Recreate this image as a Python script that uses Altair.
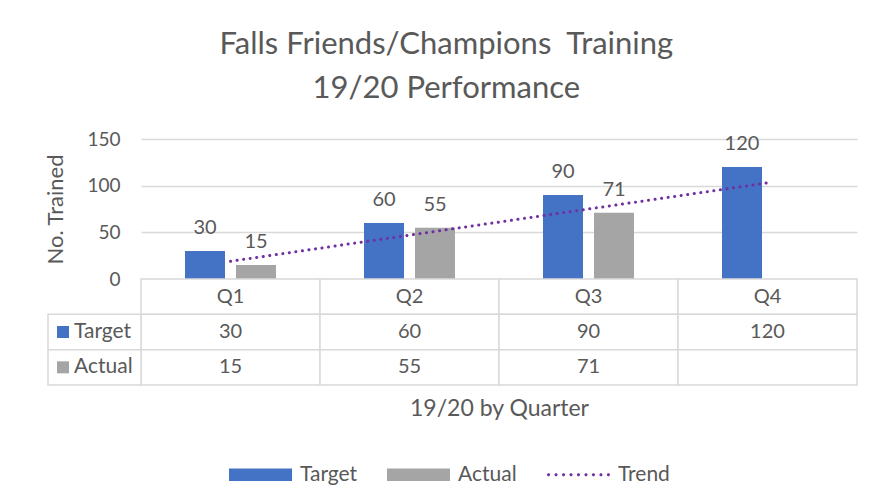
import altair as alt
import pandas as pd

# ---- data ----
quarters = ["Q1", "Q2", "Q3", "Q4"]
target = [30, 60, 90, 120]
actual = [15, 55, 71, None]
series = ["Target", "Actual"]
legend_items = ["Target", "Actual", "Trend"]
colors = ["#4472C4", "#A5A5A5", "#7030A0"]
y_ticks = [0, 50, 100, 150]
table_rows = ["hdr", "Target", "Actual"]

FONT = "Lato"
TXT = "#595959"
GRID = "#D9D9D9"
W, H = 716, 140
TH = 106

bar_rows = []
for q, t, a in zip(quarters, target, actual):
    bar_rows.append({"quarter": q, "series": "Target", "value": t})
    if a is not None:
        bar_rows.append({"quarter": q, "series": "Actual", "value": a})
bars_df = pd.DataFrame(bar_rows)

trend_df = pd.DataFrame({"quarter": quarters, "idx": [1, 2, 3, 4], "actual": actual})

tab_rows = []
for q, t, a in zip(quarters, target, actual):
    tab_rows.append({"quarter": q, "row": "hdr", "text": q})
    tab_rows.append({"quarter": q, "row": "Target", "text": str(t)})
    tab_rows.append({"quarter": q, "row": "Actual", "text": "" if a is None else str(a)})
table_df = pd.DataFrame(tab_rows)
label_df = pd.DataFrame({"series": series})

# legend symbol shapes (normalized paths)
rect_path = "M-1,-0.2H1V0.2H-1Z"
dots = []
for i in range(9):
    cx = -0.95 + i * 0.2375
    r = 0.05
    dots.append(f"M{cx - r:.4f},0a{r},{r} 0 1,0 {2*r},0a{r},{r} 0 1,0 {-2*r},0")
dot_path = "".join(dots)
sym_expr = f"datum.value === 'Trend' ? '{dot_path}' : '{rect_path}'"

color_scale = alt.Scale(domain=legend_items, range=colors)
xscale = alt.Scale(domain=quarters, paddingInner=0, paddingOuter=0)
yscale = alt.Scale(domain=[0, 150], nice=False)
xq = alt.X("quarter:N", scale=xscale, axis=None)
xoff = alt.XOffset("series:N", scale=alt.Scale(domain=series, paddingInner=0.216, paddingOuter=0.863))

yaxis = alt.Axis(
    values=y_ticks, grid=True, gridColor=GRID, gridWidth=1.5, domain=False, ticks=False,
    labelFontSize=19, labelFont=FONT, labelColor=TXT, labelPadding=21,
    title="No. Trained", titleFontSize=22, titleFont=FONT, titleColor=TXT,
    titleFontWeight="normal", titlePadding=19,
)

bars = alt.Chart(bars_df).mark_bar().encode(
    x=xq,
    xOffset=xoff,
    y=alt.Y("value:Q", scale=yscale, axis=yaxis),
    color=alt.Color(
        "series:N", scale=color_scale,
        legend=alt.Legend(
            title=None, orient="none", direction="horizontal", legendX=88, legendY=304,
            symbolType=alt.ExprRef(sym_expr), symbolSize=3969, symbolStrokeWidth=0,
            labelFontSize=21, labelFont=FONT, labelColor=TXT, labelOffset=8, columnPadding=29,
        ),
    ),
)

labels = alt.Chart(bars_df).mark_text(
    baseline="bottom", dy=-13, fontSize=20, font=FONT, color=TXT
).encode(x=xq, xOffset=xoff, y=alt.Y("value:Q", scale=yscale, axis=yaxis), text="value:Q")

trend = (
    alt.Chart(trend_df)
    .transform_filter("isValid(datum.actual)")
    .transform_regression("idx", "actual", extent=[1, 4])
    .transform_calculate(quarter="'Q' + round(datum.idx)")
    .mark_line(color=colors[2], strokeWidth=3, strokeDash=[0.1, 6.5], strokeCap="round")
    .encode(x=xq, y=alt.Y("actual:Q", scale=yscale, axis=yaxis))
)

top = alt.layer(bars, labels, trend).properties(width=W, height=H)

# ---- data table ----
x_tab = alt.X(
    "quarter:N", scale=xscale,
    axis=alt.Axis(
        title="19/20 by Quarter", labels=False, ticks=False, domain=False, grid=False,
        titleFontSize=23, titleFont=FONT, titleColor=TXT, titleFontWeight="normal", titlePadding=12,
    ),
)
y_tab = alt.Y("row:N", scale=alt.Scale(domain=table_rows, paddingInner=0, paddingOuter=0), axis=None)
y_lab = alt.Y("series:N", scale=alt.Scale(domain=table_rows, paddingInner=0, paddingOuter=0), axis=None)

cells = alt.Chart(table_df).mark_rect(fill="white", stroke=GRID, strokeWidth=1.5).encode(x=x_tab, y=y_tab)
cell_txt = alt.Chart(table_df).mark_text(fontSize=20, font=FONT, color=TXT).encode(x=x_tab, y=y_tab, text="text:N")
lab_cells = alt.Chart(label_df).mark_rect(fill="white", stroke=GRID, strokeWidth=1.5).encode(
    x=alt.value(-93), x2=alt.value(0), y=y_lab
)
lab_sq = alt.Chart(label_df).mark_square(size=144, opacity=1).encode(
    x=alt.value(-78), y=y_lab, color=alt.Color("series:N", scale=color_scale, legend=None)
)
lab_txt = alt.Chart(label_df).mark_text(align="left", fontSize=21, font=FONT, color=TXT).encode(
    x=alt.value(-67), y=y_lab, text="series:N"
)

table = alt.layer(cells, cell_txt, lab_cells, lab_sq, lab_txt).properties(width=W, height=TH)

chart = (
    alt.vconcat(top, table, spacing=0, bounds="flush")
    .properties(
        title=alt.TitleParams(
            text=["Falls Friends/Champions\u00a0 Training", "19/20 Performance"],
            fontSize=31, font=FONT, color=TXT, fontWeight="normal", lineHeight=44,
            anchor="middle", offset=25, dx=-5,
        ),
        padding={"left": 36, "top": 21, "right": 5, "bottom": 5},
        background="white",
    )
    .configure_view(stroke=None)
)

chart.save("out.html", embed_options={"renderer": "svg", "actions": False})
